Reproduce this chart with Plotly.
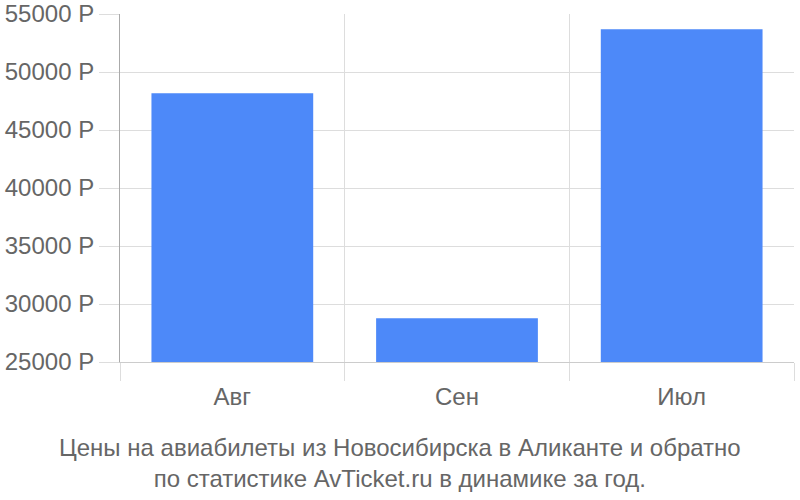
import plotly.graph_objects as go

# data
months = ["Авг", "Сен", "Июл"]
prices = [48160, 28770, 53680]
y_ticks = [25000, 30000, 35000, 40000, 45000, 50000, 55000]
y_labels = [f"{v} Р" for v in y_ticks]
title_lines = [
    "Цены на авиабилеты из Новосибирска в Аликанте и обратно",
    "по статистике AvTicket.ru в динамике за год.",
]

FONT = "Liberation Sans"
GREY = "#666666"
SIZE = 24

fig = go.Figure(go.Bar(
    x=months,
    y=[p - y_ticks[0] for p in prices],
    base=y_ticks[0],
    marker=dict(color="#4d89f9", line=dict(width=0)),
    width=0.72,
))

fig.update_layout(
    width=800,
    height=500,
    paper_bgcolor="white",
    plot_bgcolor="white",
    margin=dict(l=120, r=6, t=14, b=138),
    showlegend=False,
    font=dict(family=FONT, size=SIZE, color=GREY),
)

fig.update_xaxes(
    type="category",
    tickson="boundaries",
    ticks="outside",
    ticklen=18,
    tickcolor="#dddddd",
    ticklabelstandoff=13,
    showgrid=True,
    gridcolor="#dddddd",
    gridwidth=1,
    showline=True,
    linecolor="#cccccc",
    linewidth=1,
    automargin=False,
    tickfont=dict(family=FONT, size=SIZE, color=GREY),
)

fig.update_yaxes(
    range=[y_ticks[0], y_ticks[-1]],
    tickvals=y_ticks,
    ticktext=y_labels,
    ticks="outside",
    ticklen=20,
    tickcolor="#dddddd",
    showgrid=True,
    gridcolor="#dddddd",
    showline=True,
    linecolor="#aaaaaa",
    linewidth=1,
    zeroline=False,
    automargin=False,
    tickfont=dict(family=FONT, size=SIZE, color=GREY),
)

fig.add_annotation(
    text="<br>".join(title_lines),
    xref="paper", yref="paper",
    x=0.415, y=-0.2015,
    xanchor="center", yanchor="top",
    showarrow=False,
    align="center",
    font=dict(family=FONT, size=SIZE, color=GREY),
)

# drop the default 8px page margin so the chart sits at the window corner
fig.write_html(
    "out.html",
    config={"displayModeBar": False},
    post_script="document.body.style.margin = '0';",
)
